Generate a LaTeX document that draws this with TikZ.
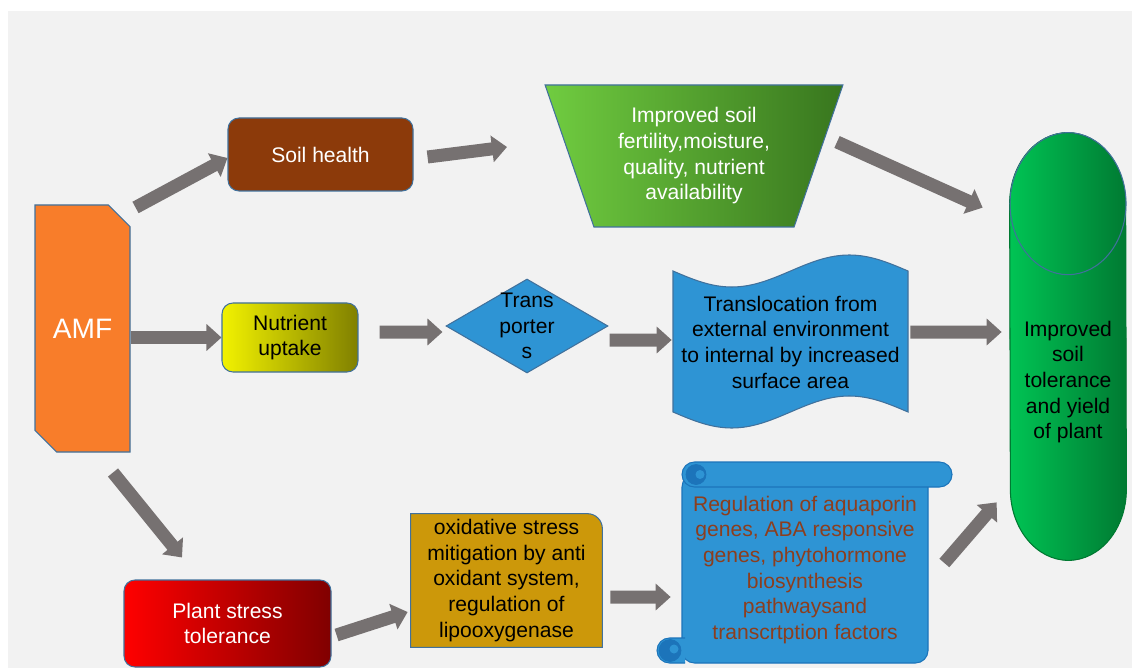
\documentclass[tikz,border=0pt]{standalone}
\usepackage{fontspec}
\setmainfont{Liberation Sans}
\usetikzlibrary{calc}
\usetikzlibrary{arrows.meta}
\usetikzlibrary{shapes.geometric,shapes.misc}
\usetikzlibrary{backgrounds}

\definecolor{panelgray}{RGB}{242,242,242}
\definecolor{arrowgray}{RGB}{118,113,113}
\definecolor{edgeblue}{RGB}{65,113,156}
\definecolor{amforange}{RGB}{248,125,42}
\definecolor{soilbrown}{RGB}{140,58,10}
\definecolor{leafgreen}{RGB}{112,204,64}
\definecolor{darkleaf}{RGB}{56,118,30}
\definecolor{lemon}{RGB}{242,242,0}
\definecolor{uptakeolive}{RGB}{128,128,0}
\definecolor{skyblue}{RGB}{46,148,212}
\definecolor{curlblue}{RGB}{28,116,186}
\definecolor{stressred}{RGB}{255,0,0}
\definecolor{darkred}{RGB}{128,0,0}
\definecolor{gold}{RGB}{204,152,10}
\definecolor{rust}{RGB}{140,62,30}
\definecolor{yieldgreen}{RGB}{0,196,84}
\definecolor{darkyield}{RGB}{0,122,50}

\tikzset{
  txt/.style={align=center, inner sep=0pt, font=\fontsize{12}{14.6}\selectfont},
  box/.style={txt, draw=edgeblue, line width=0.6pt, rounded corners=0.22cm},
  fat/.style={draw=arrowgray, line width=0.26cm, -{Triangle[length=0.3cm,width=0.52cm]}},
}

\begin{document}
\begin{tikzpicture}

\useasboundingbox (0,0) rectangle (22.64,13.36);
\begin{scope}[on background layer]
\fill[panelgray] (0.16,0) rectangle (22.64,13.14);
\end{scope}

\node[txt, chamfered rectangle, chamfered rectangle corners={north east,south west}, chamfered rectangle sep=0.24cm, draw=edgeblue, line width=0.6pt, fill=amforange, text=white, minimum width=1.9cm, minimum height=4.94cm, font=\fontsize{16}{19}\selectfont] (amf) at (1.65,6.79) {AMF};

\node[box, fill=soilbrown, text=white, minimum width=3.7cm, minimum height=1.46cm] (soil) at (6.41,10.27) {Soil health};

\node[txt, trapezium, shape border rotate=180, trapezium angle=69, trapezium stretches=true, draw=edgeblue, line width=0.6pt, left color=leafgreen, right color=darkleaf, text=white, minimum width=5.96cm, minimum height=2.84cm] (fert) at (13.88,10.24) {Improved soil\\fertility,moisture,\\quality, nutrient\\availability};

\node[box, left color=lemon, right color=uptakeolive, minimum width=2.72cm, minimum height=1.38cm] (nut) at (5.8,6.61) {Nutrient\\uptake};

\node[diamond, draw=edgeblue, line width=0.6pt, fill=skyblue, minimum width=3.24cm, minimum height=1.88cm, inner sep=0pt] (trans) at (10.54,6.84) {};
\node[txt] (transtxt) at (trans) {Trans\\porter\\s};

\node[txt, minimum width=4.7cm, minimum height=2.82cm] (transl) at (15.81,6.52) {Translocation from\\external environment\\to internal by increased\\surface area};

\node[minimum width=2.32cm, minimum height=8.54cm] (yield) at (21.36,6.43) {};
\node[txt] (yieldtxt) at (21.36,5.72) {Improved\\soil\\tolerance\\and yield\\of plant};

\node[box, left color=stressred, right color=darkred, text=white, minimum width=4.14cm, minimum height=1.74cm] (stress) at (4.55,0.89) {Plant stress\\tolerance};

\node[txt, minimum width=3.82cm, minimum height=2.66cm] (oxid) at (10.13,1.75) {oxidative stress\\mitigation by anti\\oxidant system,\\regulation of\\lipooxygenase};

\node[txt, text=rust, minimum width=4.92cm, minimum height=3.4cm] (scroll) at (16.10,1.96) {Regulation of aquaporin\\genes, ABA responsive\\genes, phytohormone\\biosynthesis\\pathwaysand\\transcrtption factors};

% shapes drawn behind the texts
\begin{scope}[on background layer]
\filldraw[fill=skyblue, draw=edgeblue, line width=0.6pt] (13.46,7.94) sin (14.635,7.62) cos (15.81,7.94) sin (16.985,8.26) cos (18.16,7.94) -- (18.16,5.12) sin (16.985,5.44) cos (15.81,5.12) sin (14.635,4.80) cos (13.46,5.12) -- cycle;

\filldraw[left color=yieldgreen, right color=darkyield, draw=darkyield, line width=0.6pt] ([yshift=-1.42cm]yield.north west) arc[start angle=180, end angle=0, x radius=1.16cm, y radius=1.42cm] -- ([yshift=1.42cm]yield.south east) arc[start angle=0, end angle=-180, x radius=1.16cm, y radius=1.42cm] -- cycle;
\draw[edgeblue, line width=0.6pt] ([yshift=-1.42cm]yield.north) ellipse[x radius=1.16cm, y radius=1.42cm];

\filldraw[fill=gold, draw=edgeblue, line width=0.6pt] (oxid.south west) -- (oxid.north west) -- ([xshift=-0.3cm]oxid.north east) arc[start angle=90, end angle=0, radius=0.3cm] -- (oxid.south east) -- cycle;

% scroll: body, top roll, bottom curl
\filldraw[fill=skyblue, draw=curlblue, line width=0.6pt, rounded corners=0.25cm] (13.64,0.10) rectangle (18.56,3.87);
\filldraw[fill=skyblue, draw=curlblue, line width=0.6pt, rounded corners=0.25cm] (13.64,3.62) rectangle (19.04,4.12);
\filldraw[fill=skyblue, draw=curlblue, line width=0.6pt] (13.70,0.60) -- (13.39,0.60) arc[start angle=90, end angle=270, radius=0.25cm] -- (13.70,0.10);
\filldraw[fill=curlblue, draw=curlblue] (13.92,3.87) circle[radius=0.2cm];
\fill[skyblue] (14.0,3.87) circle[radius=0.09cm];
\filldraw[fill=curlblue, draw=curlblue] (13.40,0.35) circle[radius=0.22cm];
\fill[skyblue] (13.48,0.38) circle[radius=0.09cm];
\end{scope}

\draw[fat] ($(amf.north -| amf.east)+(0.1,-0.06)$) -- ([yshift=-0.07cm]soil.west);
\draw[fat] ($(soil.east)+(0.28,-0.05)$) -- ($(fert)+(-3.74,0.18)$);
\draw[fat] ($(fert)+(2.86,0.28)$) -- ($(yield.north west)+(-0.54,-1.5)$);
\draw[fat] (amf.east |- nut.west) -- (nut.west);
\draw[fat] ($(nut.east)+(0.42,0.11)$) -- ($(trans.west)+(-0.06,-0.12)$);
\draw[fat] ($(trans.east)+(0.02,-0.28)$) -- ($(transl.west)+(-0.02,0.04)$);
\draw[fat] ($(transl.east)+(0.04,0.2)$) -- ($(yield.west)+(-0.16,0.29)$);
\draw[fat] ($(amf.south)+(0.61,-0.4)$) -- ($(stress.north)+(-0.91,0.44)$);
\draw[fat] ($(stress.east)+(0.1,-0.23)$) -- ($(oxid.west)+(-0.06,-0.63)$);
\draw[fat] ($(oxid.east)+(0.16,-0.33)$) -- ($(scroll.west)+(-0.22,-0.54)$);
\draw[fat] ($(scroll.east)+(0.32,0.14)$) -- ($(yield.south west)+(-0.26,1.16)$);

\end{tikzpicture}
\end{document}
